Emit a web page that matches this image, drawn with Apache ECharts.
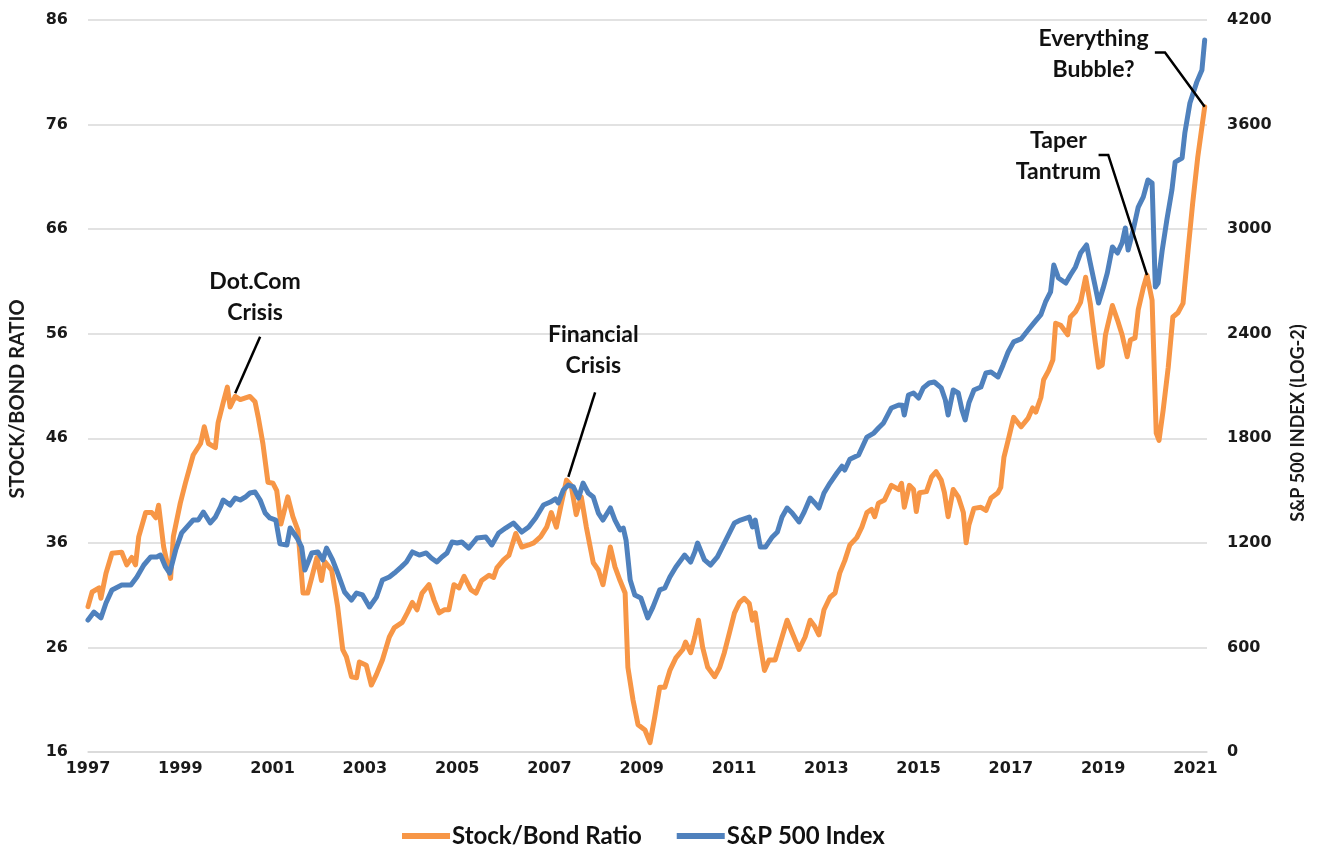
<!DOCTYPE html>
<html>
<head>
<meta charset="utf-8">
<script src="https://cdn.jsdelivr.net/npm/echarts@6/dist/echarts.min.js"></script>
<style>
  html, body { margin: 0; padding: 0; background: #fff; }
  #main { width: 1320px; height: 849px; }
</style>
</head>
<body>
<div id="main"></div>
<script>
// stock / bond ratio (decimal years)
let ratioDates = [1997.00, 1997.09, 1997.24, 1997.28, 1997.39, 1997.52, 1997.73, 1997.84, 1997.95, 1998.03,
  1998.10, 1998.25, 1998.38, 1998.47, 1998.53, 1998.64, 1998.79, 1998.85, 1999.00, 1999.11,
  1999.28, 1999.44, 1999.52, 1999.61, 1999.76, 1999.82, 1999.93, 2000.02, 2000.08, 2000.19,
  2000.30, 2000.51, 2000.62, 2000.69, 2000.79, 2000.90, 2001.01, 2001.09, 2001.18, 2001.33,
  2001.44, 2001.55, 2001.66, 2001.76, 2001.85, 2001.96, 2002.06, 2002.13, 2002.28, 2002.41,
  2002.52, 2002.60, 2002.71, 2002.82, 2002.88, 2003.03, 2003.14, 2003.25, 2003.38, 2003.53,
  2003.64, 2003.81, 2003.92, 2004.03, 2004.13, 2004.24, 2004.39, 2004.50, 2004.61, 2004.72,
  2004.82, 2004.93, 2005.04, 2005.15, 2005.30, 2005.41, 2005.53, 2005.69, 2005.79, 2005.86,
  2006.01, 2006.12, 2006.27, 2006.40, 2006.55, 2006.66, 2006.81, 2006.94, 2007.04, 2007.15,
  2007.26, 2007.37, 2007.47, 2007.58, 2007.69, 2007.80, 2007.95, 2008.06, 2008.16, 2008.32,
  2008.42, 2008.53, 2008.64, 2008.70, 2008.81, 2008.92, 2009.07, 2009.18, 2009.28, 2009.39,
  2009.50, 2009.61, 2009.74, 2009.89, 2009.95, 2010.06, 2010.15, 2010.23, 2010.32, 2010.43,
  2010.58, 2010.69, 2010.79, 2010.90, 2011.01, 2011.12, 2011.22, 2011.33, 2011.40, 2011.46,
  2011.55, 2011.66, 2011.76, 2011.89, 2012.00, 2012.15, 2012.26, 2012.41, 2012.54, 2012.65,
  2012.75, 2012.84, 2012.95, 2013.08, 2013.19, 2013.29, 2013.40, 2013.51, 2013.66, 2013.77,
  2013.88, 2013.98, 2014.05, 2014.13, 2014.26, 2014.41, 2014.57, 2014.63, 2014.69, 2014.80,
  2014.89, 2014.95, 2015.02, 2015.17, 2015.28, 2015.38, 2015.49, 2015.56, 2015.64, 2015.75,
  2015.86, 2015.97, 2016.03, 2016.09, 2016.20, 2016.35, 2016.46, 2016.57, 2016.72, 2016.78,
  2016.85, 2016.94, 2017.06, 2017.22, 2017.37, 2017.47, 2017.54, 2017.65, 2017.71, 2017.82,
  2017.91, 2017.97, 2018.08, 2018.23, 2018.29, 2018.40, 2018.51, 2018.62, 2018.72, 2018.83,
  2018.90, 2018.98, 2019.05, 2019.20, 2019.31, 2019.41, 2019.52, 2019.59, 2019.69, 2019.76,
  2019.87, 2019.95, 2020.06, 2020.15, 2020.21, 2020.30, 2020.41, 2020.51, 2020.62, 2020.73,
  2020.84, 2020.94, 2021.05, 2021.20]
let ratioValues = [29.9, 31.3, 31.7, 30.7, 33.1, 35.0, 35.1, 33.9, 34.6, 33.9,
  36.6, 38.9, 38.9, 38.4, 39.6, 35.6, 32.6, 36.6, 39.8, 41.7,
  44.4, 45.5, 47.1, 45.5, 45.1, 47.5, 49.4, 50.9, 49.0, 50.0,
  49.7, 50.0, 49.5, 48.0, 45.5, 41.8, 41.7, 41.0, 37.8, 40.4,
  38.5, 37.2, 31.2, 31.2, 32.7, 34.6, 32.4, 34.2, 33.4, 29.9,
  25.8, 25.1, 23.2, 23.1, 24.6, 24.3, 22.4, 23.4, 24.8, 27.0,
  27.9, 28.4, 29.3, 30.3, 29.6, 31.2, 32.0, 30.5, 29.3, 29.6,
  29.6, 32.0, 31.7, 32.8, 31.5, 31.2, 32.4, 32.9, 32.7, 33.6,
  34.4, 34.8, 36.9, 35.6, 35.8, 36.0, 36.6, 37.5, 38.9, 37.5,
  39.8, 42.0, 41.5, 38.7, 40.4, 37.5, 34.1, 33.4, 32.0, 35.6,
  33.7, 32.4, 31.2, 24.1, 21.0, 18.6, 18.1, 16.9, 19.3, 22.2,
  22.2, 23.8, 25.0, 25.8, 26.5, 25.5, 27.0, 28.6, 26.0, 24.1,
  23.2, 24.1, 25.5, 27.4, 29.3, 30.3, 30.7, 30.2, 28.6, 29.3,
  26.7, 23.8, 24.8, 24.8, 26.4, 28.6, 27.4, 25.8, 27.0, 28.6,
  28.0, 27.2, 29.6, 30.8, 31.2, 33.1, 34.3, 35.8, 36.5, 37.5,
  38.9, 39.2, 38.5, 39.8, 40.1, 41.5, 41.1, 41.7, 39.4, 41.5,
  41.1, 39.0, 40.8, 40.9, 42.3, 42.8, 42.0, 40.8, 38.5, 41.1,
  40.4, 38.9, 36.0, 37.7, 39.3, 39.4, 39.1, 40.3, 40.8, 41.3,
  44.2, 45.8, 48.0, 47.1, 47.9, 48.9, 48.5, 49.9, 51.6, 52.5,
  53.5, 57.0, 56.8, 55.9, 57.6, 58.1, 59.0, 61.4, 58.9, 55.1,
  52.8, 53.0, 55.9, 58.7, 57.3, 55.9, 53.8, 55.4, 55.6, 58.3,
  60.4, 61.6, 59.2, 46.5, 45.8, 48.7, 52.8, 57.6, 58.0, 58.9,
  64.0, 68.5, 72.9, 77.7]

// S&P 500 index, right axis
let spxDates = [1997.00, 1997.13, 1997.28, 1997.39, 1997.52, 1997.73, 1997.93, 1998.06, 1998.21, 1998.36,
  1998.49, 1998.57, 1998.68, 1998.77, 1998.90, 1999.03, 1999.28, 1999.39, 1999.50, 1999.65,
  1999.76, 1999.87, 1999.93, 2000.08, 2000.19, 2000.30, 2000.41, 2000.51, 2000.62, 2000.73,
  2000.84, 2000.94, 2001.07, 2001.16, 2001.31, 2001.38, 2001.53, 2001.63, 2001.70, 2001.85,
  2001.98, 2002.09, 2002.17, 2002.30, 2002.41, 2002.56, 2002.71, 2002.82, 2002.95, 2003.10,
  2003.25, 2003.38, 2003.53, 2003.64, 2003.79, 2003.90, 2004.03, 2004.18, 2004.33, 2004.44,
  2004.56, 2004.67, 2004.78, 2004.89, 2005.00, 2005.10, 2005.25, 2005.36, 2005.43, 2005.62,
  2005.75, 2005.90, 2006.05, 2006.22, 2006.40, 2006.55, 2006.70, 2006.87, 2007.02, 2007.13,
  2007.19, 2007.30, 2007.41, 2007.52, 2007.63, 2007.73, 2007.84, 2007.95, 2008.06, 2008.16,
  2008.32, 2008.42, 2008.53, 2008.60, 2008.66, 2008.75, 2008.85, 2008.98, 2009.13, 2009.24,
  2009.39, 2009.50, 2009.61, 2009.74, 2009.93, 2010.06, 2010.15, 2010.21, 2010.36, 2010.49,
  2010.64, 2010.79, 2011.01, 2011.14, 2011.33, 2011.40, 2011.46, 2011.57, 2011.68, 2011.83,
  2011.94, 2012.04, 2012.15, 2012.26, 2012.41, 2012.52, 2012.65, 2012.75, 2012.84, 2012.95,
  2013.08, 2013.23, 2013.34, 2013.40, 2013.51, 2013.70, 2013.88, 2014.03, 2014.13, 2014.24,
  2014.41, 2014.57, 2014.65, 2014.69, 2014.78, 2014.89, 2015.00, 2015.10, 2015.23, 2015.34,
  2015.49, 2015.58, 2015.64, 2015.75, 2015.86, 2015.94, 2016.01, 2016.09, 2016.20, 2016.35,
  2016.46, 2016.57, 2016.72, 2016.83, 2016.94, 2017.06, 2017.22, 2017.37, 2017.50, 2017.65,
  2017.75, 2017.86, 2017.93, 2018.03, 2018.19, 2018.29, 2018.40, 2018.51, 2018.64, 2018.72,
  2018.83, 2018.90, 2019.00, 2019.09, 2019.20, 2019.31, 2019.41, 2019.48, 2019.54, 2019.65,
  2019.76, 2019.87, 2019.97, 2020.06, 2020.13, 2020.19, 2020.28, 2020.38, 2020.49, 2020.56,
  2020.71, 2020.77, 2020.88, 2021.03, 2021.14, 2021.20]
let spxValues = [757, 803, 769, 855, 930, 958, 958, 1004, 1073, 1119,
  1119, 1130, 1062, 1027, 1159, 1257, 1331, 1331, 1377, 1314,
  1348, 1406, 1446, 1417, 1457, 1446, 1463, 1486, 1492, 1446,
  1371, 1343, 1331, 1195, 1188, 1285, 1228, 1176, 1044, 1142,
  1148, 1102, 1170, 1102, 1027, 918, 872, 912, 901, 832,
  889, 987, 1004, 1027, 1062, 1090, 1148, 1130, 1142, 1113,
  1090, 1119, 1142, 1205, 1199, 1205, 1170, 1205, 1228, 1234,
  1188, 1257, 1285, 1314, 1262, 1291, 1343, 1417, 1434, 1452,
  1429, 1503, 1532, 1521, 1457, 1543, 1486, 1463, 1371, 1331,
  1400, 1331, 1274, 1285, 1216, 987, 901, 884, 769, 830,
  930, 941, 1004, 1062, 1130, 1090, 1148, 1199, 1102, 1073,
  1119, 1199, 1314, 1331, 1348, 1291, 1331, 1176, 1176, 1234,
  1262, 1348, 1400, 1371, 1320, 1377, 1457, 1429, 1400, 1486,
  1543, 1601, 1640, 1618, 1680, 1704, 1807, 1830, 1859, 1888,
  1974, 1991, 1990, 1934, 2048, 2060, 2031, 2089, 2117, 2123,
  2089, 2020, 1934, 2077, 2060, 1963, 1905, 2003, 2077, 2094,
  2175, 2180, 2152, 2221, 2295, 2353, 2370, 2420, 2462, 2510,
  2582, 2640, 2794, 2720, 2691, 2737, 2783, 2863, 2909, 2806,
  2668, 2576, 2662, 2749, 2898, 2863, 2921, 3007, 2880, 2995,
  3127, 3185, 3282, 3265, 2668, 2691, 2880, 3053, 3225, 3385,
  3408, 3552, 3724, 3845, 3913, 4085]

let seriesNames = ['Stock/Bond Ratio', 'S&P 500 Index']

// callouts: text anchor and leader line, in (year, ratio) units
let notes = [
  { text: 'Dot.Com\nCrisis', at: [2000.62, 59.5], line: [[2000.73, 55.7], [2000.19, 50.3]] },
  { text: 'Financial\nCrisis', at: [2007.95, 54.4], line: [[2007.99, 50.4], [2007.41, 42.3]] },
  { text: 'Taper\nTantrum', at: [2018.03, 73.0], line: [[2018.90, 73.1], [2019.11, 73.1], [2019.95, 61.6]] },
  { text: 'Everything\nBubble?', at: [2018.79, 82.75], line: [[2020.12, 82.9], [2020.34, 82.9], [2021.20, 77.7]] }
]

const ORANGE = '#F79646'
const BLUE = '#4F81BD'
const NUM_FONT = 'DejaVu Sans'
const TXT_FONT = 'Lato'

let chart = echarts.init(document.getElementById('main'), null, { renderer: 'canvas' })

let option = {
  animation: false,
  backgroundColor: '#fff',
  grid: { left: 82, right: 113, top: 20, bottom: 97, containLabel: false },
  legend: {
    data: seriesNames,
    top: 819,
    left: 397,
    icon: 'rect',
    itemWidth: 48,
    itemHeight: 6,
    itemGap: 35,
    textStyle: { fontFamily: TXT_FONT, fontWeight: 'bold', fontSize: 24, color: '#111', padding: [0, 0, 0, -3] }
  },
  xAxis: {
    type: 'value',
    min: 1997,
    max: 2021.25,
    interval: 2,
    axisLine: { show: true, lineStyle: { color: '#d9d9d9', width: 1.5 } },
    axisTick: { show: false },
    splitLine: { show: false },
    axisLabel: {
      showMaxLabel: false,
      margin: 9,
      fontFamily: NUM_FONT, fontWeight: 'bold', fontSize: 16, color: '#1a1a1a',
      formatter: v => (Math.abs(v - Math.round(v)) < 1e-6 ? String(Math.round(v)) : '')
    }
  },
  yAxis: [{
    type: 'value',
    min: 16,
    max: 86,
    interval: 10,
    name: 'STOCK/BOND RATIO',
    nameLocation: 'middle',
    nameRotate: 90,
    nameGap: 60,
    nameTextStyle: { fontFamily: TXT_FONT, fontWeight: 'bold', fontSize: 20, color: '#1a1a1a', padding: [0, 26, 0, 0] },
    axisLine: { show: false },
    axisTick: { show: false },
    splitLine: { lineStyle: { color: '#d9d9d9', width: 1.5 } },
    axisLabel: { margin: 20, fontFamily: NUM_FONT, fontWeight: 'bold', fontSize: 16, color: '#1a1a1a' }
  }, {
    type: 'value',
    min: 0,
    max: 4200,
    interval: 600,
    position: 'right',
    name: 'S&P 500 INDEX (LOG-2)',
    nameLocation: 'middle',
    nameRotate: 90,
    nameGap: 82,
    nameTextStyle: { fontFamily: TXT_FONT, fontWeight: 'bold', fontSize: 18, color: '#1a1a1a', padding: [0, 74, 0, 0] },
    axisLine: { show: false },
    axisTick: { show: false },
    splitLine: { show: false },
    axisLabel: {
      margin: 20, fontFamily: NUM_FONT, fontWeight: 'bold', fontSize: 16, color: '#1a1a1a',
      formatter: v => String(v)
    }
  }],
  series: [{
    name: seriesNames[0],
    type: 'line',
    yAxisIndex: 0,
    showSymbol: false,
    color: ORANGE,
    lineStyle: { width: 5, color: ORANGE, join: 'round', cap: 'round' },
    data: ratioDates.map((d, i) => [d, ratioValues[i]])
  }, {
    name: seriesNames[1],
    type: 'line',
    yAxisIndex: 1,
    showSymbol: false,
    color: BLUE,
    lineStyle: { width: 5, color: BLUE, join: 'round', cap: 'round' },
    data: spxDates.map((d, i) => [d, spxValues[i]])
  }]
}

chart.setOption(option)

// draw the callouts once the axes exist
function toPx(p) {
  return chart.convertToPixel({ xAxisIndex: 0, yAxisIndex: 0 }, p)
}
let graphics = []
notes.forEach(n => {
  let pos = toPx(n.at)
  graphics.push({
    type: 'text',
    x: pos[0],
    y: pos[1],
    z: 100,
    style: {
      text: n.text,
      fontFamily: TXT_FONT,
      fontSize: 23,
      fontWeight: 'bold',
      lineHeight: 31,
      fill: '#111',
      align: 'center',
      verticalAlign: 'middle'
    }
  })
  graphics.push({
    type: 'polyline',
    z: 100,
    shape: { points: n.line.map(toPx) },
    style: { stroke: '#000', lineWidth: 2.5, fill: null }
  })
})
chart.setOption({ graphic: graphics })
</script>
</body>
</html>
